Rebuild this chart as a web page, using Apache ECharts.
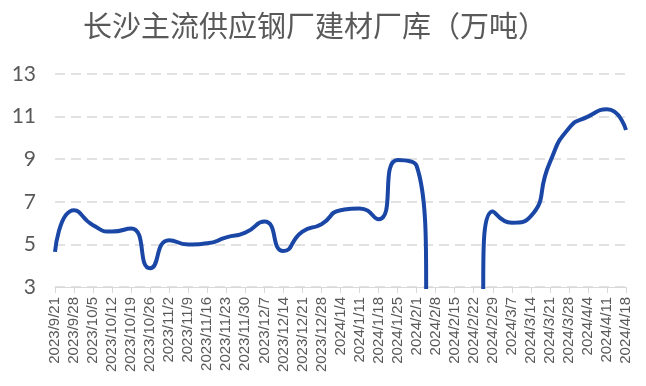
<!DOCTYPE html>
<html>
<head>
<meta charset="utf-8">
<script src="https://cdn.jsdelivr.net/npm/echarts@6/dist/echarts.min.js"></script>
<style>html,body{margin:0;padding:0;background:#fff;}#c{width:646px;height:386px;}</style>
</head>
<body>
<div id="c"></div>
<script>
var title = '长沙主流供应钢厂建材厂库（万吨）';
var categories = ['2023/9/21','2023/9/28','2023/10/5','2023/10/12','2023/10/19','2023/10/26','2023/11/2','2023/11/9','2023/11/16','2023/11/23','2023/11/30','2023/12/7','2023/12/14','2023/12/21','2023/12/28','2024/1/4','2024/1/11','2024/1/18','2024/1/25','2024/2/1','2024/2/8','2024/2/15','2024/2/22','2024/2/29','2024/3/7','2024/3/14','2024/3/21','2024/3/28','2024/4/4','2024/4/11','2024/4/18'];
var values = [4.65,6.6,5.9,5.6,5.75,3.88,5.2,5.0,5.05,5.33,5.55,6.07,4.69,5.6,5.95,6.6,6.69,6.18,8.96,8.68,0,0,0,6.55,6.02,6.33,8.85,10.45,11.0,11.34,10.37];
var yMin = 3, yMax = 13, yStep = 2;

var chart = echarts.init(document.getElementById('c'));
chart.setOption({
  animation: false,
  title: {
    text: title, left: 310, top: 6, textAlign: 'center',
    textStyle: {fontFamily: 'Noto Sans CJK SC', fontSize: 29, fontWeight: 'normal', color: '#595959'}
  },
  grid: {left: 55, right: 20, top: 74, bottom: 99},
  xAxis: {
    type: 'category', data: categories, boundaryGap: false,
    axisLine: {lineStyle: {color: '#d9d9d9', width: 1}},
    axisTick: {show: true, length: 6, lineStyle: {color: '#d9d9d9'}},
    axisLabel: {rotate: 90, interval: 0, fontSize: 15, color: '#595959', margin: 10, fontFamily: 'Liberation Sans'}
  },
  yAxis: {
    type: 'value', min: yMin, max: yMax, interval: yStep,
    axisLine: {show: false}, axisTick: {show: false},
    axisLabel: {fontSize: 21, color: '#595959', margin: 19, fontFamily: 'Lato'},
    splitLine: {lineStyle: {color: '#d9d9d9', type: [10, 6], width: 1.5}}
  },
  series: [{
    type: 'line', data: values, smooth: 0.6, showSymbol: false, clip: true,
    lineStyle: {color: '#1a47a6', width: 4}
  }]
});
</script>
</body>
</html>
